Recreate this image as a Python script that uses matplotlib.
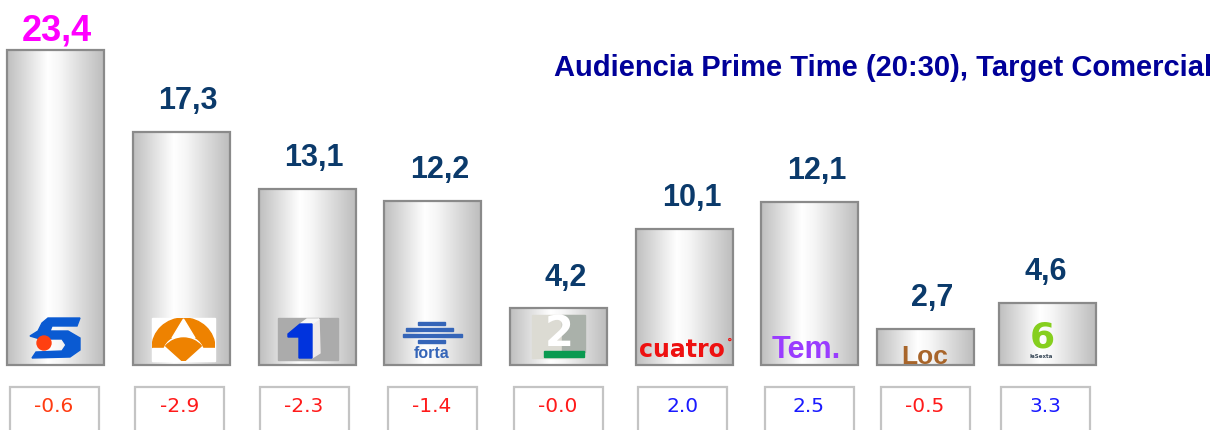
import numpy as np
import matplotlib
matplotlib.use("Agg")
import matplotlib.pyplot as plt
from matplotlib.patches import Rectangle, Ellipse, Polygon, Circle, Wedge
from matplotlib.colors import LinearSegmentedColormap

# ---- data ----
channels = ["Telecinco", "Antena 3", "La 1", "Forta", "La 2", "Cuatro", "Temáticas", "Locales", "La Sexta"]
shares = [23.4, 17.3, 13.1, 12.2, 4.2, 10.1, 12.1, 2.7, 4.6]
share_labels = ["23,4", "17,3", "13,1", "12,2", "4,2", "10,1", "12,1", "2,7", "4,6"]
changes = [-0.6, -2.9, -2.3, -1.4, -0.0, 2.0, 2.5, -0.5, 3.3]
change_labels = ["-0.6", "-2.9", "-2.3", "-1.4", "-0.0", "2.0", "2.5", "-0.5", "3.3"]
title = "Audiencia Prime Time (20:30), Target Comercial"

# ---- layout (pixel based) ----
W, H = 1220, 430
bar_x = [55.5, 181, 307, 432.5, 558.5, 684.5, 809.5, 925.5, 1047.5]
bar_w = 97
box_x = [54, 179.5, 304, 432, 558, 682.5, 809, 925, 1045.5]
box_w = 89
base_px = 65           # baseline distance from bottom in px
k = 13.46              # px per share unit

fig = plt.figure(figsize=(W / 100, H / 100), dpi=100)
ax = fig.add_axes([0, 0, 1, 1])
ax.set_axis_off()

grad_cmap = LinearSegmentedColormap.from_list(
    "cyl", [(0.0, "#bfbfbf"), (0.42, "#ffffff"), (0.55, "#f6f6f6"), (1.0, "#bdbdbd")])
grad = np.linspace(0, 1, 256).reshape(1, -1)

bars = ax.bar(bar_x, shares, width=bar_w, fill=False, edgecolor="#8a8a8a",
              linewidth=1.6, zorder=3)
for b in bars:
    x0, w, h = b.get_x(), b.get_width(), b.get_height()
    ax.imshow(grad, cmap=grad_cmap, extent=[x0, x0 + w, 0, h], aspect="auto",
              interpolation="bicubic", zorder=2)

# value labels
for i, (b, lab) in enumerate(zip(bars, share_labels)):
    cx = b.get_x() + b.get_width() / 2
    if i == 0:
        ax.annotate(lab, (cx, b.get_height()), xytext=(1, 7), textcoords="offset points",
                    ha="center", va="baseline", fontsize=26, fontweight="bold",
                    color="#ff00ff", family="Liberation Sans", zorder=5)
    else:
        dx = -2 if i == 8 else 7
        ax.annotate(lab, (cx, b.get_height()), xytext=(dx * 0.72, 16.5), textcoords="offset points",
                    ha="center", va="baseline", fontsize=22, fontweight="bold",
                    color="#0b3a6b", family="Liberation Sans", zorder=5)

# change boxes
box_top = (H - 387 - base_px) / k
box_bottom = -base_px / k - 1
ax.bar(box_x, [box_top - box_bottom] * len(box_x), width=box_w, bottom=box_bottom,
       color="white", edgecolor="#c4c4c4", linewidth=1.6, zorder=3)
text_y = (H - 407 - base_px) / k
for bx, v, lab in zip(box_x, changes, change_labels):
    col = "#1a1aff" if v > 0 else "#ff1a1a"
    if lab == "-0.6":
        col = "#ff3b10"
    ax.text(bx, text_y, lab, ha="center", va="center", fontsize=14.5,
            color=col, family="DejaVu Sans", zorder=5)

ax.set_xlim(0, W)
ax.set_ylim(-base_px / k, (H - base_px) / k)

# ---- logos overlay (pixel coords, y down) ----
lg = fig.add_axes([0, 0, 1, 1])
lg.set_xlim(0, W)
lg.set_ylim(H, 0)
lg.set_axis_off()
lg.patch.set_alpha(0)

# Telecinco
lg.add_patch(Polygon([[48, 318], [80, 318], [77, 326], [52, 326], [50, 331],
                      [68, 331], [80, 338], [80, 350], [70, 357], [32, 358],
                      [36, 352], [62, 351], [66, 345], [62, 339], [40, 339],
                      [30, 336], [38, 331], [42, 323]],
                     closed=True, color="#0a5ad2", zorder=6))
lg.add_patch(Circle((44, 343), 7, color="#ff4010", zorder=7))

# Antena 3
orange = "#ee8200"
sq = Rectangle((152, 318), 63, 43, color="white", zorder=6)
lg.add_patch(sq)
arc_parts = [
    Ellipse((183.5, 348), 63, 60, color=orange, zorder=7),
    Ellipse((183.5, 353), 40, 34, color="white", zorder=8),
    Rectangle((152, 348), 63, 13, color="white", zorder=8),
    Polygon([[183.5, 319], [172, 338], [195, 338]], closed=True, color="white", zorder=9),
    Wedge((183.5, 362), 24, 222, 318, color=orange, zorder=9),
]
for p in arc_parts:
    lg.add_patch(p)
    p.set_clip_path(sq)

# La 1
lg.add_patch(Rectangle((278, 318), 60, 42, color="#ababab", zorder=6))
lg.add_patch(Polygon([[312, 324], [319, 319], [320, 353], [312, 358]],
                     closed=True, color="#eeeaea", zorder=7))
lg.add_patch(Polygon([[300, 324], [307, 319], [319, 319], [312, 324]],
                     closed=True, color="#f7f7f7", zorder=7))
lg.add_patch(Polygon([[288, 334], [300, 324], [312, 324], [312, 358], [299, 358],
                      [299, 337], [288, 337]], closed=True, color="#0033dd", zorder=8))

# Forta
fc = "#3565b8"
for y0, x0, x1, hh in [(322, 418, 445, 3), (328, 406, 453, 3), (334, 403, 462, 3), (340, 418, 445, 3)]:
    lg.add_patch(Rectangle((x0, y0), x1 - x0, hh, color=fc, zorder=7))
lg.text(432, 353, "forta", ha="center", va="center", fontsize=11.5, fontweight="bold",
        color=fc, family="Liberation Sans", zorder=7)

# La 2
lg.add_patch(Rectangle((532, 315), 53, 43, color="#dcdbd3", zorder=6))
lg.add_patch(Rectangle((562, 315), 23, 37, color="#aab1aa", zorder=6))
lg.text(559, 334, "2", ha="center", va="center", fontsize=30, fontweight="bold",
        color="white", family="DejaVu Sans", zorder=7)
lg.add_patch(Rectangle((544, 351), 40, 6, color="#0a9a50", zorder=7))

# Cuatro
lg.text(682, 350, "cuatro", ha="center", va="center", fontsize=17, fontweight="heavy",
        color="#ee1111", family="DejaVu Sans", zorder=7)
lg.text(730, 343, "°", ha="center", va="center", fontsize=8, fontweight="bold",
        color="#ee1111", zorder=7)

# Temáticas
lg.text(806, 350, "Tem.", ha="center", va="center", fontsize=22, fontweight="bold",
        color="#9a3cff", family="Liberation Sans", zorder=7)

# Locales
lg.text(925, 357, "Loc", ha="center", va="center", fontsize=19, fontweight="bold",
        color="#a8652a", family="Liberation Sans", zorder=7)

# La Sexta
lg.text(1042, 338, "6", ha="center", va="center", fontsize=26, fontweight="bold",
        color="#86cf1e", family="DejaVu Sans", zorder=7)
lg.text(1041, 356, "laSexta", ha="center", va="center", fontsize=4, fontweight="bold",
        color="#3a4a5a", family="DejaVu Sans", zorder=7)

# Title
fig.text(1212 / W, 1 - 68 / H, title, ha="right", va="center", fontsize=21,
         fontweight="bold", color="#000099", family="Liberation Sans")

fig.savefig("out.png", dpi=100)
